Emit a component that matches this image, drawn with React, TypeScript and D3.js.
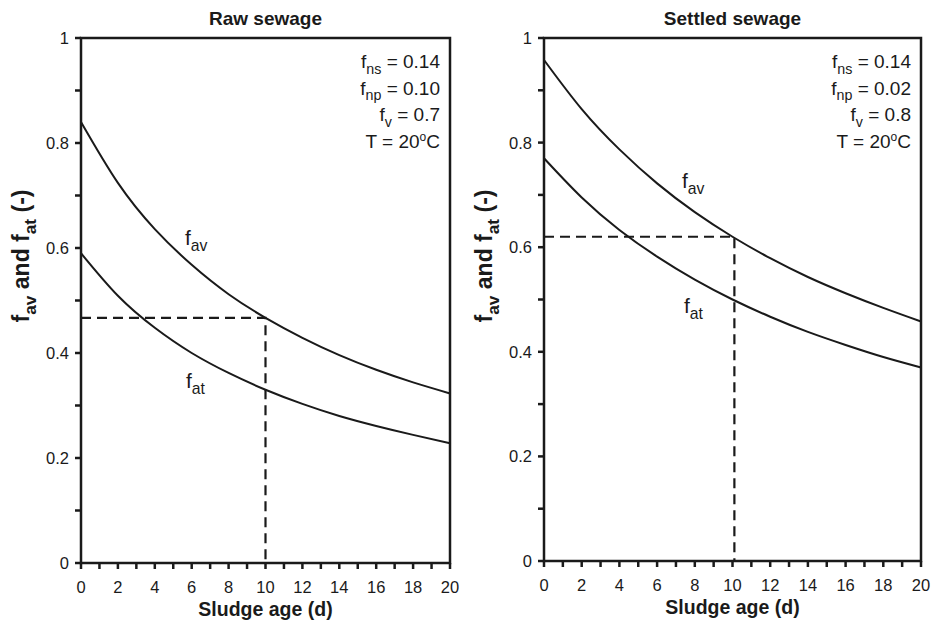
import React from 'react';
import * as d3 from 'd3';

// sludge age (d)
const days = [0, 2, 4, 6, 8, 10, 12, 14, 16, 18, 20];

// raw sewage
const rawFav = [0.84, 0.724, 0.636, 0.568, 0.512, 0.467, 0.429, 0.396, 0.368, 0.344, 0.323];
const rawFat = [0.59, 0.509, 0.448, 0.4, 0.362, 0.33, 0.303, 0.28, 0.261, 0.244, 0.228];

// settled sewage
const setFav = [0.958, 0.864, 0.787, 0.722, 0.667, 0.62, 0.579, 0.543, 0.512, 0.484, 0.458];
const setFat = [0.77, 0.695, 0.633, 0.582, 0.538, 0.5, 0.467, 0.438, 0.413, 0.39, 0.37];

const xTicks = d3.range(0, 21, 1);
const xLabels = d3.range(0, 21, 2);
const yTicks = d3.range(0, 1.01, 0.1);
const yLabels = [0, 0.2, 0.4, 0.6, 0.8, 1];

const rawParams = [['ns', '0.14'], ['np', '0.10'], ['v', '0.7']];
const setParams = [['ns', '0.14'], ['np', '0.02'], ['v', '0.8']];

const INK = '#1a1a1a';
const FONT = 'Liberation Sans, Arial, sans-serif';

type PanelProps = {
    title: string;
    left: number;
    right: number;
    top: number;
    bottom: number;
    fav: number[];
    fat: number[];
    params: string[][];
    readAt: number;
    readVal: number;
    favLabel: [number, number];
    fatLabel: [number, number];
};

// letter with a subscript, then the rest of the text on the baseline
function Sub(props: { base: string; sub: string; size: number; rest?: string }) {
    const { base, sub, size, rest } = props;
    return (
        <>
            <tspan>{base}</tspan>
            <tspan dy={size * 0.3} fontSize={size * 0.75}>{sub}</tspan>
            <tspan dy={-size * 0.3}>{rest}</tspan>
        </>
    );
}

function Panel(p: PanelProps) {
    const x = d3.scaleLinear().domain([0, 20]).range([p.left, p.right]);
    const y = d3.scaleLinear().domain([0, 1]).range([p.bottom, p.top]);
    const line = d3.line<number>()
        .x((d, i) => x(days[i]))
        .y((d) => y(d))
        .curve(d3.curveNatural);
    const cx = (p.left + p.right) / 2;
    const annX = p.right - 10;

    return (
        <g>
            <text x={cx} y={25} textAnchor="middle" fontWeight="bold" fontSize={19} fill={INK}>{p.title}</text>

            {/* dashed reading lines */}
            <path d={`M${x(0)},${y(p.readVal)}H${x(p.readAt)}V${y(0)}`}
                  fill="none" stroke={INK} strokeWidth={2.2} strokeDasharray="10,6" />

            <path d={line(p.fav) || ''} fill="none" stroke={INK} strokeWidth={2} />
            <path d={line(p.fat) || ''} fill="none" stroke={INK} strokeWidth={2} />

            {/* frame */}
            <rect x={p.left} y={p.top} width={p.right - p.left} height={p.bottom - p.top}
                  fill="none" stroke={INK} strokeWidth={2.5} />

            {/* y ticks */}
            {yTicks.map((t, i) => (
                <line key={'yt' + i} x1={p.left - 6} x2={p.left} y1={y(t)} y2={y(t)} stroke={INK} strokeWidth={2.5} />
            ))}
            {yLabels.map((t) => (
                <text key={'yl' + t} x={p.left - 12} y={y(t) + 6} textAnchor="end" fontSize={16.5} fill={INK}>{String(t)}</text>
            ))}

            {/* x ticks */}
            {xTicks.map((t) => (
                <line key={'xt' + t} x1={x(t)} x2={x(t)} y1={p.bottom} y2={p.bottom + 6} stroke={INK} strokeWidth={2.5} />
            ))}
            {xLabels.map((t) => (
                <text key={'xl' + t} x={x(t)} y={p.bottom + 30} textAnchor="middle" fontSize={16.5} fill={INK}>{t}</text>
            ))}
            <text x={cx} y={p.bottom + 53} textAnchor="middle" fontWeight="bold" fontSize={19.5} fill={INK}>Sludge age (d)</text>

            {/* y title */}
            <text transform={`translate(${p.left - 52},256) rotate(-90)`} textAnchor="middle"
                  fontWeight="bold" fontSize={23} fill={INK}>
                <Sub base="f" sub="av" size={23} rest=" and " />
                <Sub base="f" sub="at" size={23} rest=" (-)" />
            </text>

            {/* parameters */}
            {p.params.map((d, i) => (
                <text key={'pa' + i} x={annX} y={p.top + 30 + i * 26.7} textAnchor="end" fontSize={19} fill={INK}>
                    <Sub base="f" sub={d[0]} size={19} rest={' = ' + d[1]} />
                </text>
            ))}
            <text x={annX} y={p.top + 30 + 3 * 26.7} textAnchor="end" fontSize={19} fill={INK}>
                T = 20<tspan dy={-7} fontSize={12}>o</tspan><tspan dy={7}>C</tspan>
            </text>

            {/* curve labels */}
            <text x={p.favLabel[0]} y={p.favLabel[1]} fontSize={21} fill={INK}>
                <Sub base="f" sub="av" size={21} />
            </text>
            <text x={p.fatLabel[0]} y={p.fatLabel[1]} fontSize={21} fill={INK}>
                <Sub base="f" sub="at" size={21} />
            </text>
        </g>
    );
}

export default function App() {
    return (
        <svg width={933} height={627} fontFamily={FONT}
             style={{ position: 'absolute', left: 0, top: 0, background: '#fff' }}>
            <Panel title="Raw sewage" left={81} right={450} top={38} bottom={563}
                   fav={rawFav} fat={rawFat} params={rawParams} readAt={10} readVal={0.467}
                   favLabel={[185, 245]} fatLabel={[186, 388]} />
            <Panel title="Settled sewage" left={544} right={921} top={38} bottom={561}
                   fav={setFav} fat={setFat} params={setParams} readAt={10.1} readVal={0.62}
                   favLabel={[682, 188]} fatLabel={[684, 313]} />
        </svg>
    );
}
